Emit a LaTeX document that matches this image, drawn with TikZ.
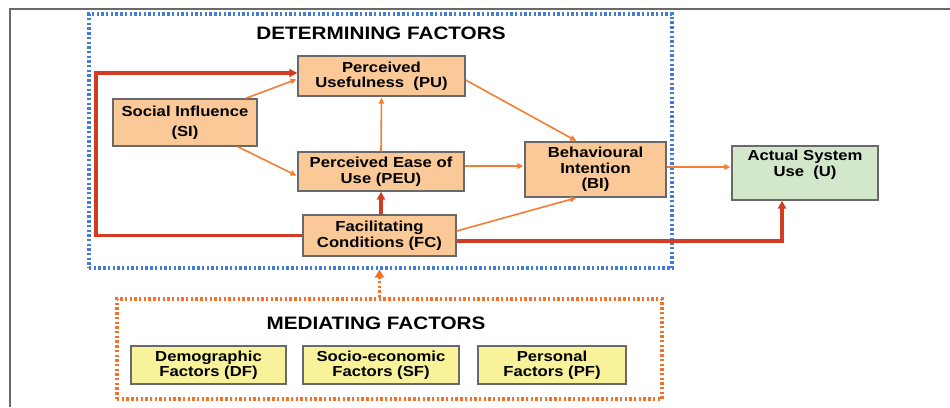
\documentclass[tikz,border=0pt]{standalone}
\usepackage{fontspec}
\setmainfont{Liberation Sans}[FakeStretch=1.15]
\usetikzlibrary{arrows.meta,calc}

\definecolor{peach}{RGB}{251,201,151}
\definecolor{mint}{RGB}{211,232,203}
\definecolor{lemon}{RGB}{248,242,155}
\definecolor{edgegray}{RGB}{105,105,105}
\definecolor{frameblue}{RGB}{65,125,215}
\definecolor{frameorange}{RGB}{245,112,40}
\definecolor{linkorange}{RGB}{245,125,50}
\definecolor{linkred}{RGB}{210,60,35}

\tikzset{
  factor/.style={draw=edgegray, line width=1.3pt, inner sep=0pt, align=center,
    font=\bfseries\fontsize{14.5}{15.5}\selectfont},
  determ/.style={factor, fill=peach},
  outcome/.style={factor, fill=mint},
  mediat/.style={factor, fill=lemon},
  heading/.style={inner sep=0pt, font=\bfseries\fontsize{18}{20}\selectfont},
  thinlink/.style={draw=linkorange, line width=1.6pt, shorten >=1pt,
    -{Triangle[length=6pt,width=5.5pt]}},
  thicklink/.style={draw=linkred, line width=3.2pt,
    -{Triangle[length=8pt,width=8pt]}},
  bluegroup/.style={draw=frameblue, line width=3.1pt, dash pattern=on 2.4pt off 2.3pt},
  orangegroup/.style={draw=frameorange, line width=3.1pt, dash pattern=on 2.4pt off 2.3pt},
  dottedlink/.style={draw=frameorange, line width=3pt, dash pattern=on 2.4pt off 2.3pt,
    -{Triangle[length=8pt,width=9pt]}},
}

\begin{document}
\begin{tikzpicture}[x=1pt,y=-1pt]
\useasboundingbox (0,0) rectangle (950,407);

% page frame (top and left edges)
\draw[edgegray, line width=1.4pt] (10,407) -- (10,9) -- (950,9);

% group boxes
\node[bluegroup, minimum width=583pt, minimum height=254pt] (det) at (380.5,141) {};
\node[orangegroup, minimum width=545pt, minimum height=100pt] (med) at (389.5,349) {};

\node[heading] (dettitle) at (381,33) {DETERMINING FACTORS};
\node[heading] (medtitle) at (376,323) {MEDIATING FACTORS};

% determining factors
\node[determ, minimum width=167pt, minimum height=40pt] (PU) at (381.5,76) {Perceived\\Usefulness\ \ (PU)};
\node[determ, minimum width=144pt, minimum height=47pt] (SI) at (185,122.5) {Social Influence\\[5pt](SI)};
\node[determ, minimum width=166pt, minimum height=39pt] (PEU) at (381,171.5) {Perceived Ease of\\Use (PEU)};
\node[determ, minimum width=141pt, minimum height=55pt] (BI) at (595.5,169.5) {Behavioural\\Intention\\(BI)};
\node[determ, minimum width=153pt, minimum height=41pt] (FC) at (379.5,235.5) {Facilitating\\Conditions (FC)};

% outcome
\node[outcome, minimum width=146pt, minimum height=54pt] (U) at (805,173) {Actual System\\Use\ \ (U)\\[4pt]};

% mediating factors
\node[mediat, minimum width=155pt, minimum height=38pt] (DF) at (208.5,365) {Demographic\\Factors\ (DF)};
\node[mediat, minimum width=156pt, minimum height=38pt] (SF) at (381,365) {Socio-economic\\Factors\ (SF)};
\node[mediat, minimum width=148pt, minimum height=38pt] (PF) at (552,365) {Personal\\Factors\ (PF)};

% facilitating conditions links
\coordinate (loop) at (96,73);
\draw[thicklink] (FC.west) -| (loop) -- (loop -| PU.west);
\draw[thicklink] ([yshift=-5.5pt]FC.east) -| ([xshift=-23pt]U.south);
\draw[thicklink] (FC.north -| PEU.south) -- (PEU.south);

% model links
\draw[thinlink] ([xshift=-12pt]SI.north east) -- ([yshift=-3pt]PU.west);
\draw[thinlink] ([xshift=-20pt]SI.south east) -- ([yshift=-4.5pt]PEU.west);
\draw[thinlink] (PEU.north) -- (PU.south);
\draw[thinlink] ([yshift=-4pt]PU.east) -- ([xshift=-18.5pt]BI.north);
\draw[thinlink] ([yshift=5.5pt]PEU.east) -- ([yshift=5.5pt]PEU.east -| BI.west);
\draw[thinlink] ([yshift=4.5pt]FC.east) -- ([xshift=-18.5pt]BI.south);
\draw[thinlink] ([yshift=2.5pt]BI.east) -- ([yshift=2.5pt]BI.east -| U.west);

% mediating factors feed into the determining factors
\draw[dottedlink] (med.north -| FC.south) -- (det.south -| FC.south);
\end{tikzpicture}
\end{document}
